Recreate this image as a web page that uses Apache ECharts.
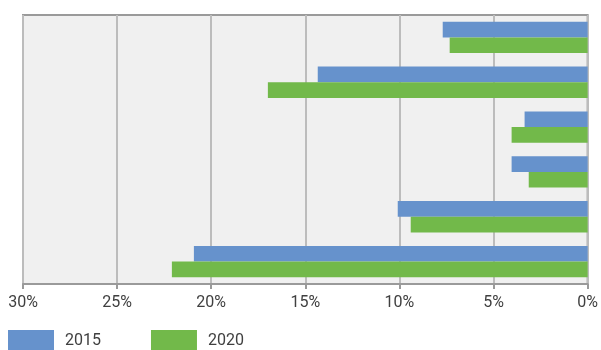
<!DOCTYPE html>
<html>
<head>
<meta charset="utf-8">
<script src="https://cdn.jsdelivr.net/npm/echarts@6/dist/echarts.min.js"></script>
<style>
html,body{margin:0;padding:0;background:#fff;}
#chart{width:601px;height:350px;}
</style>
</head>
<body>
<div id="chart"></div>
<script>
const categories = ['Cat 1', 'Cat 2', 'Cat 3', 'Cat 4', 'Cat 5', 'Cat 6'];
const values2015 = [7.70, 14.34, 3.35, 4.04, 10.09, 20.92];
const values2020 = [7.33, 16.99, 4.04, 3.13, 9.40, 22.09];
const seriesNames = ['2015', '2020'];
const xTicks = { min: 0, max: 30, interval: 5 };

const chart = echarts.init(document.getElementById('chart'), null, { renderer: 'canvas' });
chart.setOption({
  animation: false,
  backgroundColor: '#ffffff',
  color: ['#6692cc', '#72b94a'],
  grid: {
    left: 23, right: 13, top: 15, bottom: 66,
    show: true,
    backgroundColor: '#f0f0f0',
    borderColor: '#9a9a9a',
    borderWidth: 2
  },
  legend: {
    left: 8,
    top: 330,
    padding: 0,
    itemWidth: 46,
    itemHeight: 22,
    itemGap: 50,
    icon: 'rect',
    data: seriesNames,
    textStyle: {
      fontFamily: 'Roboto',
      fontSize: 16,
      color: '#404040',
      padding: [0, 0, 0, 6]
    }
  },
  xAxis: {
    type: 'value',
    inverse: true,
    min: xTicks.min,
    max: xTicks.max,
    interval: xTicks.interval,
    axisLine: { show: true, lineStyle: { color: '#9a9a9a', width: 2 } },
    axisTick: { show: true, length: 5, lineStyle: { color: '#9a9a9a', width: 2 } },
    splitLine: { show: true, lineStyle: { color: '#bcbcbc', width: 2 } },
    axisLabel: {
      formatter: '{value}%',
      fontFamily: 'Roboto',
      fontSize: 16,
      color: '#404040',
      margin: 11
    }
  },
  yAxis: {
    type: 'category',
    inverse: true,
    data: categories,
    axisLabel: { show: false },
    axisTick: { show: false },
    axisLine: { show: false },
    splitLine: { show: false }
  },
  series: [
    { name: seriesNames[0], type: 'bar', data: values2015, barGap: '0%', barCategoryGap: '30%' },
    { name: seriesNames[1], type: 'bar', data: values2020, barGap: '0%', barCategoryGap: '30%' }
  ]
});
</script>
</body>
</html>
